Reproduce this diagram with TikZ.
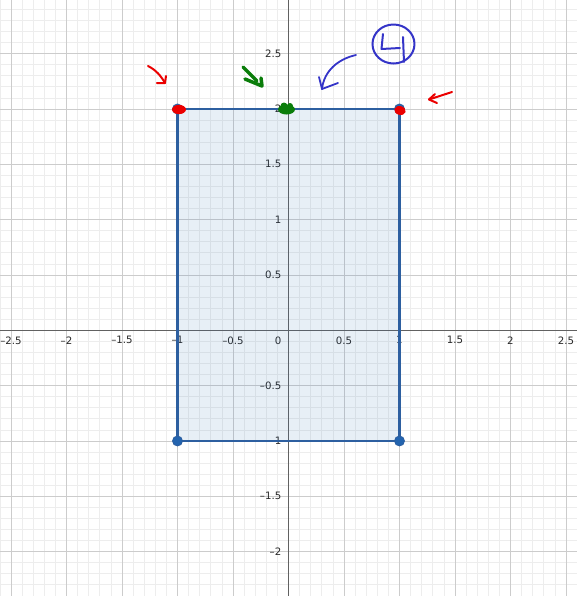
\documentclass[tikz,border=0pt]{standalone}
\usepackage{fontspec}
\setmainfont{DejaVu Sans}
\definecolor{rectedge}{RGB}{45,95,160}
\definecolor{rectfill}{RGB}{45,112,179}
\definecolor{dotblue}{RGB}{35,100,175}
\definecolor{annred}{RGB}{235,0,0}
\definecolor{anngreen}{RGB}{10,125,10}
\definecolor{annblue}{RGB}{52,52,200}
\definecolor{labgray}{RGB}{40,40,40}
\begin{document}
\begin{tikzpicture}[x=111pt,y=110.67pt,
  minorgrid/.style={draw=black!7,line width=0.7pt},
  majorgrid/.style={draw=black!20,line width=0.9pt},
  axisline/.style={draw=black!62,line width=1.3pt},
  ticklab/.style={font=\fontsize{10.2}{12}\selectfont,text=labgray,inner sep=0pt},
  handred/.style={draw=annred,line width=2pt,line cap=round,line join=round},
  handgreen/.style={draw=anngreen,line width=3.5pt,line cap=round,line join=round},
  handblue/.style={draw=annblue,line width=1.8pt,line cap=round,line join=round},
  vdot/.style={fill=dotblue,draw=rectedge,line width=0.8pt}]
\useasboundingbox (-2.5991,-2.4009) rectangle (2.5991,2.9846);
\fill[white] (-2.5991,-2.4009) rectangle (2.5991,2.9846);
% grid
\foreach \i in {-26,...,26} \draw[minorgrid] (\i/10,-2.41) -- (\i/10,2.99);
\foreach \j in {-24,...,29} \draw[minorgrid] (-2.6,\j/10) -- (2.6,\j/10);
\foreach \i in {-5,...,5} \draw[majorgrid] (\i/2,-2.41) -- (\i/2,2.99);
\foreach \j in {-4,...,5} \draw[majorgrid] (-2.6,\j/2) -- (2.6,\j/2);
% axes
\coordinate (xl) at (-2.6,0); \coordinate (xr) at (2.6,0);
\coordinate (yb) at (0,-2.41); \coordinate (yt) at (0,2.99);
\draw[axisline] (xl) -- (xr);
\draw[axisline] (yb) -- (yt);
% tick labels
\foreach \v/\t [count=\k] in {-2.5/–2.5,-2/–2,-1.5/–1.5,-1/–1,-0.5/–0.5,0.5/0.5,1/1,1.5/1.5,2/2,2.5/2.5}
  \node[ticklab,anchor=north] (xlab\k) at ([yshift=-6pt]\v,0) {\t};
\foreach \v/\t [count=\k] in {-2/–2,-1.5/–1.5,-1/–1,-0.5/–0.5,0.5/0.5,1/1,1.5/1.5,2/2,2.5/2.5}
  \node[ticklab,anchor=east] (ylab\k) at ([xshift=-7pt]0,\v) {\t};
\node[ticklab,anchor=north east] (olab) at (-7pt,-6pt) {0};
% rectangle
\coordinate (A) at (-1,-1); \coordinate (B) at (1,-1);
\coordinate (C) at (1,2); \coordinate (D) at (-1,2);
\fill[rectfill,fill opacity=0.11] (A) rectangle (C);
\draw[rectedge,line width=2.4pt,line join=round] (A) -- (B) -- (C) -- (D) -- cycle;
\foreach \p in {A,B,C,D} \path[vdot] (\p) circle (5pt);
% hand annotations (pixel coordinates)
\begin{scope}[x=1pt,y=-1pt,shift={(-288.5pt,330.3pt)}]
  \fill[annred] (179,109.5) ellipse [x radius=7pt, y radius=4.6pt];
  \fill[annred,rotate around={-15:(400,110.5)}] (400,110.5) ellipse [x radius=5.8pt, y radius=4.4pt];
  \fill[anngreen] (286.5,109.5) ellipse [x radius=8.5pt, y radius=5pt];
  \fill[anngreen] (284,106) circle (3.5pt);
  \fill[anngreen] (290,106) circle (3pt);
  \draw[handred] (148,66) .. controls (156,70) and (161,76) .. (165,83);
  \draw[handred] (166,76) -- (165,83) -- (157,83);
  \draw[handgreen] (243,67) -- (257,81);
  \draw[handgreen] (245,79) -- (262,86) -- (261,78);
  \draw[handblue] (356,55) .. controls (338,59) and (324,71) .. (322,89);
  \draw[handblue] (319,77) -- (322,89) -- (338,83);
  \draw[handblue,line width=2pt] (393.5,44) ellipse [x radius=21pt, y radius=19.5pt];
  \draw[handblue,line width=2pt] (383,34) -- (381.5,49) -- (400,48);
  \draw[handblue,line width=2pt] (403,37) -- (404,62);
  \draw[handred] (452,92) -- (429,99.5);
  \draw[handred] (435,94) -- (429,99.5) -- (437,103);
\end{scope}
\end{tikzpicture}
\end{document}
